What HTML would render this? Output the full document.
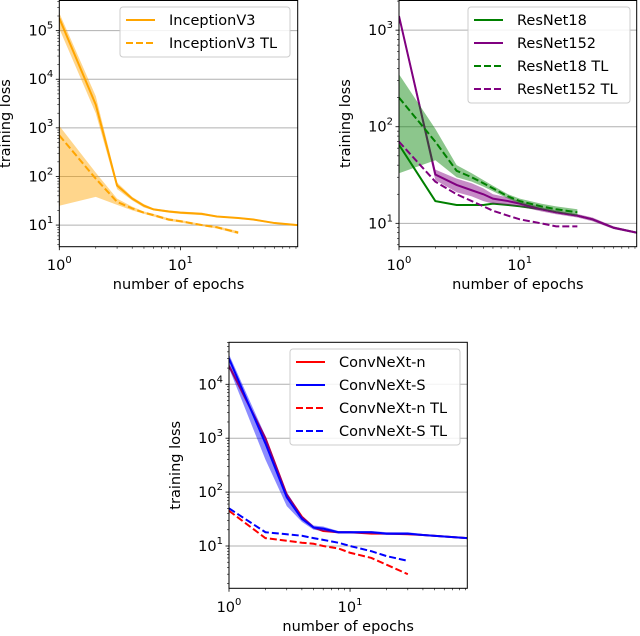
<!DOCTYPE html>
<html><head><meta charset="utf-8">
<style>
html,body{margin:0;padding:0;background:#fff;}
svg{display:block;font-family:"DejaVu Sans","Liberation Sans",sans-serif;}
</style></head>
<body>
<svg id="fig" width="640" height="636" viewBox="0 0 640 636" xmlns="http://www.w3.org/2000/svg"></svg>
<script>
// ---- data ----
const epochsFull = [1,2,3,4,5,6,8,10,15,20,30,40,60,93];
const epochsTL = [1,2,3,4,5,6,8,10,15,20,30];
const inceptionV3 = [180000,3000,65,35,25,21,19,18,17,15,14,13,11,10];
const inceptionV3Lo = [110000,2000,55,32,23,20,18,17,16,14.5,13.5,12.5,10.6,9.6];
const inceptionV3Hi = [230000,4500,75,38,27,22,20,19,18,15.5,14.5,13.5,11.4,10.4];
const inceptionV3TL = [700,90,30,22,18,16,13,12,10,9,7];
const inceptionV3TLLo = [25,38,26,20,17,15,12.2,11.3,9.5,8.5,6.5];
const inceptionV3TLHi = [1100,120,35,24,19,17,13.8,12.7,10.5,9.5,7.5];
const resnet18 = [65,17,15.5,15.5,15.5,16,15.5,15,14,13,12,11,9,8];
const resnet152 = [1400,32,25,22,20,18,17,16,14,13,12,11,9,8];
const resnet152Lo = [1300,28,21,19,17,16,15.5,15,13.3,12.4,11.5,10.5,8.7,7.8];
const resnet152Hi = [1500,36,29,26,23,20,18.5,17,14.7,13.6,12.5,11.5,9.3,8.2];
const resnet18TL = [200,70,35,30,26,23,19,17,15,14,13];
const resnet18TLLo = [33,45,30,27,24,21.5,18,16,14,13,12];
const resnet18TLHi = [350,95,40,33,28,24.5,20,18,16,15,14];
const resnet152TL = [70,27,20,17,15,13.5,12,11,10,9.3,9.3];
const convnextN = [22000,1000,90,35,22,19,18,18,17,17,16.5,16,15,14];
const convnextS = [30000,800,80,32,22,21,18,18,18,17,17,16,15,14];
const convnextSLo = [20000,400,55,28,20,19,17,17,17,16,16,15.3,14.4,13.4];
const convnextSHi = [36000,1100,100,36,24,23,19,19,19,18,18,16.7,15.6,14.6];
const convnextNTL = [45,14,12.5,11.5,11,10,9,7.5,6,4.5,3];
const convnextSTL = [50,18,16.5,15.5,14,13,11.5,10,8,6.5,5.3];
const xTickLabels = ["0","1"];

const svg = document.getElementById('fig');
const NS = 'http://www.w3.org/2000/svg';
const FS = 14.5;
function mk(tag, attrs, parent){const e=document.createElementNS(NS,tag);for(const k in attrs)e.setAttribute(k,attrs[k]);(parent||svg).appendChild(e);return e;}

const panels = [
 {name:'inception', L:59.3,R:297.7,T:0.5,B:246.7, xmax:93, ymin:Math.pow(10,0.555), ymax:Math.pow(10,5.62), yDecs:[1,2,3,4,5], xlabY:289, tickY:270, ylabX:10,
  series:[
   {x:epochsFull,y:inceptionV3,lo:inceptionV3Lo,hi:inceptionV3Hi,c:'#ffa500',dash:false,label:'InceptionV3'},
   {x:epochsTL,y:inceptionV3TL,lo:inceptionV3TLLo,hi:inceptionV3TLHi,c:'#ffa500',dash:true,label:'InceptionV3 TL'}],
  leg:{x:120,y:7,w:170,h:50}},
 {name:'resnet', L:399,R:636.7,T:0.5,B:246.7, xmax:93, ymin:Math.pow(10,0.758), ymax:Math.pow(10,3.307), yDecs:[1,2,3], xlabY:289, tickY:270, ylabX:350,
  series:[
   {x:epochsFull,y:resnet18,c:'#008000',dash:false,label:'ResNet18'},
   {x:epochsFull,y:resnet152,lo:resnet152Lo,hi:resnet152Hi,c:'#800080',dash:false,label:'ResNet152'},
   {x:epochsTL,y:resnet18TL,lo:resnet18TLLo,hi:resnet18TLHi,c:'#008000',dash:true,label:'ResNet18 TL'},
   {x:epochsTL,y:resnet152TL,c:'#800080',dash:true,label:'ResNet152 TL'}],
  leg:{x:468,y:7,w:162,h:96}},
 {name:'convnext', L:229,R:467.3,T:342.3,B:588.3, xmax:93, ymin:Math.pow(10,1-(588.3-546)/53.9), ymax:Math.pow(10,4+(384.3-342.3)/53.9), yDecs:[1,2,3,4], xlabY:631, tickY:612, ylabX:180,
  series:[
   {x:epochsFull,y:convnextN,c:'#ff0000',dash:false,label:'ConvNeXt-n'},
   {x:epochsFull,y:convnextS,lo:convnextSLo,hi:convnextSHi,c:'#0000ff',dash:false,label:'ConvNeXt-S'},
   {x:epochsTL,y:convnextNTL,c:'#ff0000',dash:true,label:'ConvNeXt-n TL'},
   {x:epochsTL,y:convnextSTL,c:'#0000ff',dash:true,label:'ConvNeXt-S TL'}],
  leg:{x:290,y:349,w:170,h:96}}
];

panels.forEach(p=>{
  const lx0=0, lx1=Math.log10(p.xmax), ly0=Math.log10(p.ymin), ly1=Math.log10(p.ymax);
  const X=v=>p.L+(Math.log10(v)-lx0)/(lx1-lx0)*(p.R-p.L);
  const Y=v=>p.B-(Math.log10(v)-ly0)/(ly1-ly0)*(p.B-p.T);
  const g=mk('g',{});
  
  
  const clipId='clip-'+p.name;
  const cp=mk('clipPath',{id:clipId},g); mk('rect',{x:p.L,y:p.T,width:p.R-p.L,height:p.B-p.T},cp);
  p.yDecs.forEach(d=>{
    const y=Y(Math.pow(10,d));
    const gl=mk('line',{x1:p.L,x2:p.R,y1:y,y2:y,stroke:'#b0b0b0','stroke-width':1},g);
    
    
    mk('line',{x1:p.L-3.5,x2:p.L,y1:y,y2:y,stroke:'#000','stroke-width':0.8},g);
    const t=mk('text',{x:p.L-6,y:y+5,'text-anchor':'end','font-size':FS},g);
    
    
    t.innerHTML='10<tspan dy="-7" font-size="10">'+d+'</tspan>';
  });
  for(let d=Math.floor(ly0);d<=Math.ceil(ly1);d++){for(let m=2;m<=9;m++){const v=m*Math.pow(10,d);if(v<p.ymin||v>p.ymax)continue;const y=Y(v);mk('line',{x1:p.L-2,x2:p.L,y1:y,y2:y,stroke:'#000','stroke-width':0.6},g);}}
  xTickLabels.forEach(d=>{
    const x=X(Math.pow(10,+d));
    mk('line',{x1:x,x2:x,y1:p.B,y2:p.B+3.5,stroke:'#000','stroke-width':0.8},g);
    const t=mk('text',{x:x,y:p.tickY,'text-anchor':'middle','font-size':FS},g);
    
    
    t.innerHTML='10<tspan dy="-7" font-size="10">'+d+'</tspan>';
  });
  for(let d=0;d<=1;d++){for(let m=2;m<=9;m++){const v=m*Math.pow(10,d);if(v>p.xmax)continue;const x=X(v);mk('line',{x1:x,x2:x,y1:p.B,y2:p.B+2,stroke:'#000','stroke-width':0.6},g);}}
  const sg=mk('g',{'clip-path':'url(#'+clipId+')'},g);
  p.series.forEach(s=>{
    if(s.lo){
      let d='';s.x.forEach((xv,i)=>{d+=(i?'L':'M')+X(xv)+','+Y(s.hi[i]);});
      for(let i=s.x.length-1;i>=0;i--)d+='L'+X(s.x[i])+','+Y(s.lo[i]);
      const b=mk('path',{d:d+'Z',fill:s.c,'fill-opacity':0.45,stroke:'none'},sg);
      
      
    }
    let d='';s.x.forEach((xv,i)=>{d+=(i?'L':'M')+X(xv)+','+Y(s.y[i]);});
    const l=mk('path',{d:d,fill:'none',stroke:s.c,'stroke-width':2,'stroke-dasharray':s.dash?'7,3':'none'},sg);
    
    
  });
  mk('rect',{x:p.L,y:p.T,width:p.R-p.L,height:p.B-p.T,fill:'none',stroke:'#000','stroke-width':1},g);
  const xl=mk('text',{x:(p.L+p.R)/2,y:p.xlabY,'text-anchor':'middle','font-size':FS},g);
  
  
  xl.textContent='number of epochs';
  const cy=(p.T+p.B)/2;
  const yl=mk('text',{x:p.ylabX,y:cy,'text-anchor':'middle','font-size':FS,transform:'rotate(-90 '+p.ylabX+' '+cy+')'},g);
  
  
  yl.textContent='training loss';
  const lg=mk('g',{},g);
  
  
  mk('rect',{x:p.leg.x,y:p.leg.y,width:p.leg.w,height:p.leg.h,rx:3,fill:'#fff','fill-opacity':0.85,stroke:'#ccc'},lg);
  p.series.forEach((s,i)=>{
    const y=p.leg.y+13+i*23;
    const e=mk('g',{},lg);
    
    
    mk('line',{x1:p.leg.x+6,x2:p.leg.x+35,y1:y,y2:y,stroke:s.c,'stroke-width':2,'stroke-dasharray':s.dash?'7,3':'none'},e);
    const t=mk('text',{x:p.leg.x+49,y:y+5,'font-size':FS},e);
    t.textContent=s.label;
  });
});
</script>
</body></html>
